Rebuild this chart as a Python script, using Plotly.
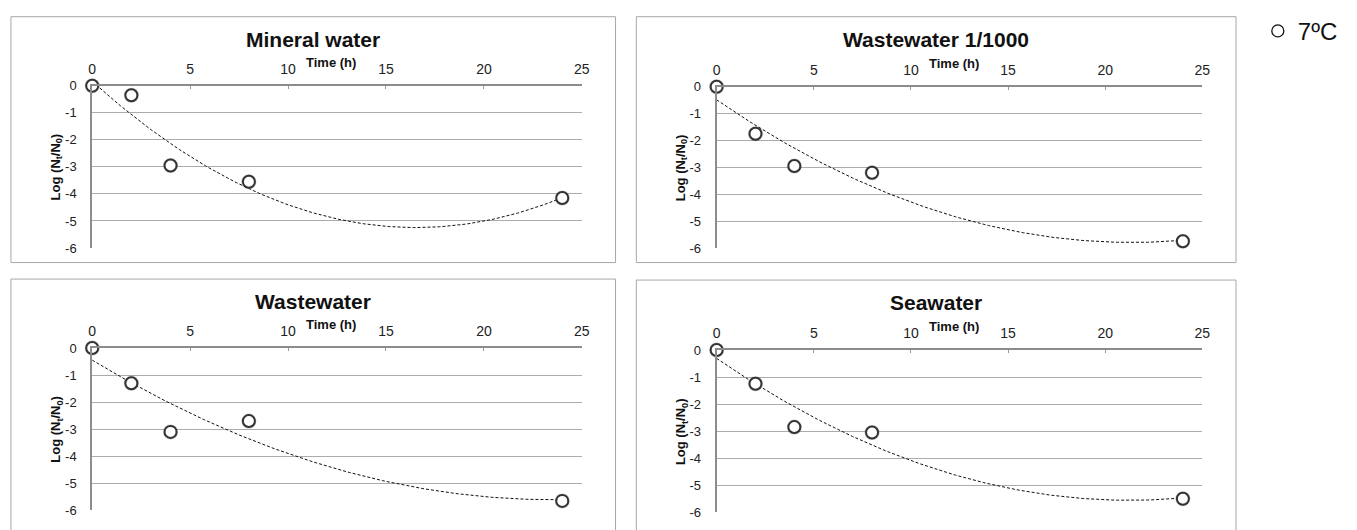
import numpy as np
import plotly.graph_objects as go

# ---------------- data ----------------
time_h = [0, 2, 4, 8, 24]
mineral_water = [0.0, -0.35, -2.95, -3.55, -4.15]
wastewater_1_1000 = [0.0, -1.75, -2.95, -3.2, -5.75]
wastewater = [0.0, -1.3, -3.1, -2.7, -5.65]
seawater = [0.0, -1.25, -2.85, -3.05, -5.5]
panel_titles = ["Mineral water", "Wastewater 1/1000", "Wastewater", "Seawater"]
x_tick_vals = [0, 5, 10, 15, 20, 25]
y_tick_vals = [0, -1, -2, -3, -4, -5, -6]
y_tick_text = ["0", "-1", "-2", "-3", "-4", "-5", "-6"]
legend_label = "7ºC"

W, H = 1357, 530
FONT = "Arial, Liberation Sans, sans-serif"


def px(x):
    return x / W


def py(y):
    return 1 - y / H


# panel geometry in pixels: plot area (x0, x1, ytop, ybottom) and outer box
panels = [
    dict(vals=mineral_water, title=panel_titles[0], area=(89, 583, 81, 248), box=(7, 617, 10, 263)),
    dict(vals=wastewater_1_1000, title=panel_titles[1], area=(719, 1209, 82, 248), box=(638, 1243, 10, 263)),
    dict(vals=wastewater, title=panel_titles[2], area=(89, 583, 351, 518), box=(7, 617, 280, 545)),
    dict(vals=seawater, title=panel_titles[3], area=(719, 1209, 353, 520), box=(638, 1243, 281, 545)),
]

fig = go.Figure()
annotations = []
shapes = []

for i, p in enumerate(panels):
    n = i + 1
    xa = "x" if n == 1 else f"x{n}"
    ya = "y" if n == 1 else f"y{n}"
    x0, x1, yt, yb = p["area"]
    bx0, bx1, byt, byb = p["box"]

    # trendline (2nd order polynomial fit of the data, as in the original)
    coef = np.polyfit(time_h, p["vals"], 2)
    xt = np.linspace(min(time_h), max(time_h), 200)
    fig.add_trace(go.Scatter(
        x=xt, y=np.polyval(coef, xt), mode="lines", xaxis=xa, yaxis=ya,
        line=dict(color="#111111", width=1, dash="3px,2px"),
        showlegend=False, hoverinfo="skip", cliponaxis=False))

    # soft shadow under markers
    fig.add_trace(go.Scatter(
        x=time_h, y=p["vals"], mode="markers", xaxis=xa, yaxis=ya,
        marker=dict(symbol="circle", size=15, color="rgba(70,60,60,0.3)", line=dict(width=0)),
        showlegend=False, hoverinfo="skip", cliponaxis=False))
    fig.add_trace(go.Scatter(
        x=time_h, y=p["vals"], mode="markers", xaxis=xa, yaxis=ya,
        marker=dict(symbol="circle", size=12, color="white", line=dict(color="#333333", width=2)),
        showlegend=False, name=legend_label, cliponaxis=False))

    fig.layout[("xaxis" if n == 1 else f"xaxis{n}")] = dict(
        domain=[px(x0), px(x1)], anchor=ya, side="top", range=[0, 25],
        tickvals=x_tick_vals, ticks="inside", ticklen=3, tickcolor="#999999",
        showline=True, linecolor="#8c8c8c", linewidth=2,
        tickfont=dict(family=FONT, size=14, color="#222222"),
        ticklabelstandoff=4, showgrid=False, zeroline=False)
    fig.layout[("yaxis" if n == 1 else f"yaxis{n}")] = dict(
        domain=[py(yb), py(yt)], anchor=xa, range=[-6, 0],
        tickvals=y_tick_vals, ticktext=y_tick_text, ticks="",
        showline=True, linecolor="#8c8c8c", linewidth=2,
        showgrid=True, gridcolor="#ababab", gridwidth=1, zeroline=False,
        tickfont=dict(family=FONT, size=13, color="#222222"),
        ticklabelstandoff=11)

    shapes.append(dict(type="rect", xref="paper", yref="paper",
                       x0=px(bx0), x1=px(bx1), y0=py(byb), y1=py(byt),
                       line=dict(color="#a8a8a8", width=1), layer="below"))

    scale = (x1 - x0) / 25
    annotations.append(dict(
        text="<b>Time (h)</b>", xref="paper", yref="paper",
        x=px(x0 + 12.2 * scale), y=py(yt - 24), xanchor="center", yanchor="middle",
        showarrow=False, font=dict(family=FONT, size=13, color="#111111")))
    annotations.append(dict(
        text=f"<b>{p['title']}</b>", xref="paper", yref="paper",
        x=px((bx0 + bx1) / 2), y=py(byt + 23), xanchor="center", yanchor="middle",
        showarrow=False, font=dict(family=FONT, size=21, color="#111111")))
    annotations.append(dict(
        text="<b>Log (N<sub>t</sub>/N<sub>0</sub>)</b>", xref="paper", yref="paper",
        x=px(x0 - 36), y=py((yt + yb) / 2), xanchor="center", yanchor="middle",
        textangle=-90, showarrow=False, font=dict(family=FONT, size=13, color="#111111")))

# legend-only entry
fig.add_trace(go.Scatter(
    x=[None], y=[None], mode="markers", name=legend_label,
    marker=dict(symbol="circle-open", size=12, color="#111111", line=dict(width=1.3)),
    showlegend=True))

fig.update_layout(
    width=W, height=H, margin=dict(l=0, r=0, t=0, b=0),
    paper_bgcolor="white", plot_bgcolor="white",
    shapes=shapes, annotations=annotations,
    showlegend=True,
    legend=dict(x=px(1265), y=py(25), xanchor="left", yanchor="middle",
                font=dict(family=FONT, size=24, color="#111111"),
                bgcolor="rgba(0,0,0,0)", itemwidth=30),
)

fig.write_html("out.html")
